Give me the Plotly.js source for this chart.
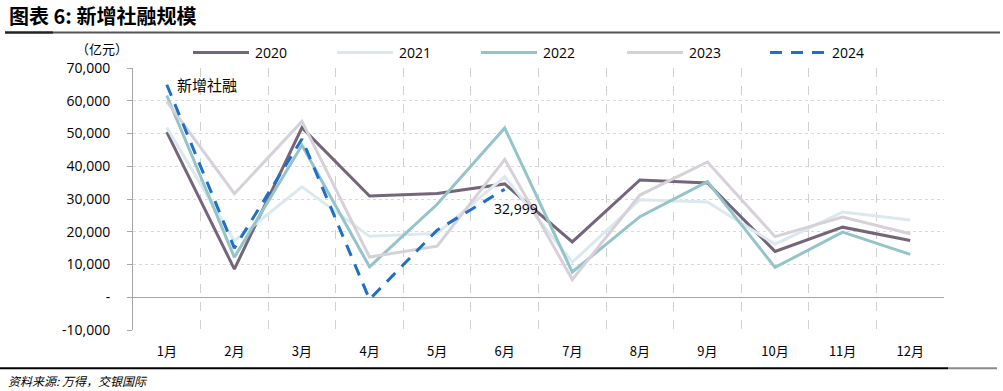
<!DOCTYPE html>
<html>
<head>
<meta charset="utf-8">
<script src="https://cdn.plot.ly/plotly-3.0.1.min.js"></script>
<style>
html,body{margin:0;padding:0;background:#fff;}
#chart{width:1003px;height:391px;}
</style>
</head>
<body>
<div id="chart"></div>
<script>
// ---- data ----
const months = ['1月','2月','3月','4月','5月','6月','7月','8月','9月','10月','11月','12月'];
const s2020 = [50400, 8600, 51800, 30900, 31700, 34600, 16900, 35800, 34900, 14000, 21400, 17300];
const s2021 = [51800, 17200, 33700, 18600, 19500, 36800, 10700, 29800, 29100, 16200, 26000, 23600];
const s2022 = [61600, 12200, 46400, 9300, 28400, 51700, 7700, 24600, 35300, 9100, 19900, 13100];
const s2023 = [59800, 31600, 53700, 12300, 15600, 42100, 5400, 31200, 41300, 18500, 24500, 19400];
const s2024 = [64900, 15000, 48300, -658, 20500, 32999];
const seriesNames = ['2020','2021','2022','2023','2024'];
const yTickVals = [-10000, 0, 10000, 20000, 30000, 40000, 50000, 60000, 70000];
const yTickText = ['-10,000', '-', '10,000', '20,000', '30,000', '40,000', '50,000', '60,000', '70,000'];
const titleText = '图表 6: 新增社融规模';
const unitText = '（亿元）';
const seriesLabel = '新增社融';
const sourceText = '资料来源: 万得，交银国际';
const lastLabel = '32,999';

// ---- styling ----
const colors = ['#74657A', '#DBE9EE', '#93C4CA', '#D6D0D9', '#1F6FC4'];
const W = 1003, H = 391;
const L = 133, R = 944, T = 68, B = 330;
const px = x => (x - L) / (R - L);
const py = y => (B - y) / (B - T);
const numFont = 'Open Sans, DejaVu Sans, sans-serif';
const cjkFont = 'Noto Sans CJK SC, sans-serif';

const allSeries = [s2020, s2021, s2022, s2023, s2024];
const traces = allSeries.map((vals, i) => ({
  type: 'scatter', mode: 'lines',
  x: months.slice(0, vals.length), y: vals,
  name: seriesNames[i],
  line: {color: colors[i], width: 3, dash: i === 4 ? '12px,9px' : 'solid'},
  hoverinfo: 'skip', showlegend: false
}));

// manual legend
const legX = [193, 337, 481, 627, 770];
const legLen = 56, legY = 52.5;
const shapes = [];
const annotations = [];
seriesNames.forEach((n, i) => {
  shapes.push({type: 'line', xref: 'paper', yref: 'paper',
    x0: px(legX[i]), x1: px(legX[i] + legLen), y0: py(legY), y1: py(legY),
    line: {color: colors[i], width: 3, dash: i === 4 ? '12px,9px' : 'solid'}});
  annotations.push({xref: 'paper', yref: 'paper', x: px(legX[i] + legLen + 4), y: py(legY),
    xanchor: 'left', yanchor: 'middle', showarrow: false, text: n,
    font: {family: numFont, size: 14, color: '#000'}});
});

// header / footer rules
shapes.push({type: 'line', xref: 'paper', yref: 'paper', x0: px(53), x1: px(1000), y0: py(32.5), y1: py(32.5), line: {color: '#555555', width: 2}});
shapes.push({type: 'line', xref: 'paper', yref: 'paper', x0: px(5), x1: px(53), y0: py(32.5), y1: py(32.5), line: {color: '#222222', width: 2.5}});
shapes.push({type: 'line', xref: 'paper', yref: 'paper', x0: px(0), x1: px(948), y0: py(368.3), y1: py(368.3), line: {color: '#000000', width: 2}});
shapes.push({type: 'line', xref: 'paper', yref: 'paper', x0: px(948), x1: px(997), y0: py(368.3), y1: py(368.3), line: {color: '#888888', width: 2}});

annotations.push({xref: 'paper', yref: 'paper', x: px(7), y: py(16), xanchor: 'left', yanchor: 'middle',
  showarrow: false, text: '<b>' + titleText + '</b>', font: {family: cjkFont, size: 20, color: '#000'}});
annotations.push({xref: 'paper', yref: 'paper', x: px(102), y: py(48), xanchor: 'center', yanchor: 'middle',
  showarrow: false, text: unitText, font: {family: cjkFont, size: 13, color: '#000'}});
annotations.push({xref: 'paper', yref: 'paper', x: px(207), y: py(84), xanchor: 'center', yanchor: 'middle',
  showarrow: false, text: seriesLabel, font: {family: cjkFont, size: 15, color: '#000'}});
annotations.push({xref: 'paper', yref: 'paper', x: px(6), y: py(380.5), xanchor: 'left', yanchor: 'middle',
  showarrow: false, text: '<i>' + sourceText + '</i>', font: {family: cjkFont, size: 12, color: '#000'}});
annotations.push({xref: 'x', yref: 'y', x: months[s2024.length - 1], y: s2024[s2024.length - 1],
  xanchor: 'center', yanchor: 'middle', xshift: 11, yshift: -19, showarrow: false, text: lastLabel,
  font: {family: numFont, size: 14, color: '#000'}});

const layout = {
  width: W, height: H,
  margin: {l: L, r: W - R, t: T, b: H - B, pad: 0},
  paper_bgcolor: '#fff', plot_bgcolor: '#fff',
  showlegend: false,
  xaxis: {
    type: 'category', range: [-0.5, 11.5], tickson: 'boundaries',
    showgrid: true, gridcolor: '#D0D0D0', griddash: 'dash', gridwidth: 1,
    showline: false, zeroline: false, ticks: '',
    ticklabelstandoff: 12,
    tickfont: {family: cjkFont, size: 13, color: '#000'}
  },
  yaxis: {
    range: [-10000, 70000], tickvals: yTickVals, ticktext: yTickText,
    showgrid: true, gridcolor: '#D9D9D9', griddash: 'dot', gridwidth: 1,
    zeroline: true, zerolinecolor: '#A6A6A6', zerolinewidth: 1,
    showline: true, linecolor: '#A6A6A6', linewidth: 1,
    ticks: 'outside', ticklen: 5, tickcolor: '#A6A6A6',
    ticklabelstandoff: 14,
    tickfont: {family: numFont, size: 14, color: '#000'}
  },
  shapes: shapes,
  annotations: annotations
};

Plotly.newPlot('chart', traces, layout, {displayModeBar: false, staticPlot: true});
</script>
</body>
</html>
